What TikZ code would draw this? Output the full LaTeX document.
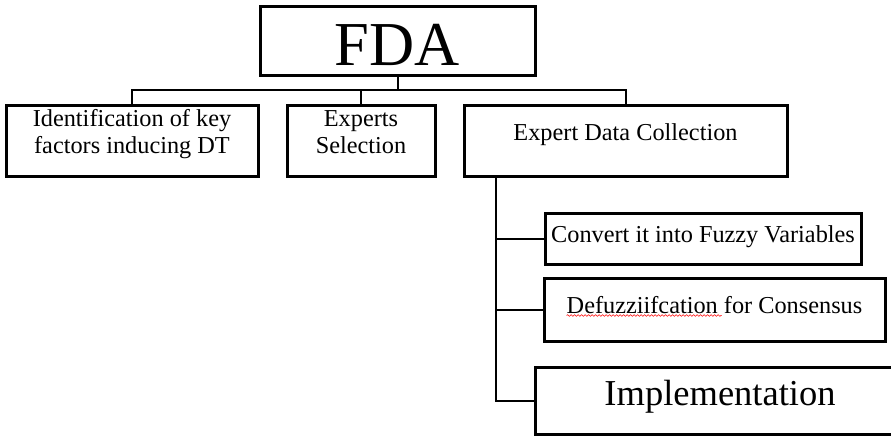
\documentclass[tikz,border=0pt]{standalone}
\usepackage{fontspec}
\usepackage{graphicx}
\setmainfont{Liberation Serif}
\usetikzlibrary{calc,decorations.pathmorphing}
\newcommand\txtat[2]{\raisebox{#1}[0pt][0pt]{#2}}
\tikzset{
  boxnode/.style={draw, line width=3pt, inner sep=0pt, align=center,
    font=\fontsize{24.3}{26.5}\selectfont},
  conn/.style={line width=2pt},
  squiggle/.style={draw=red, line width=0.6pt,
    decorate, decoration={snake, amplitude=0.8pt, segment length=3.5pt}}
}
\begin{document}
\begin{tikzpicture}[x=1pt,y=-1pt]
\useasboundingbox (0,0) rectangle (891,436);
\clip (0,0) rectangle (891,436);
\fill[white] (0,0) rectangle (891,436);

\node[boxnode, minimum width=275pt, minimum height=68pt,
  font=\fontsize{62.5}{70}\selectfont] (fda) at (397.5,41)
  {\txtat{-25pt}{FDA}};

\node[boxnode, minimum width=252pt, minimum height=71pt] (b1) at (132,140.5)
  {\txtat{13.8pt}{\begin{tabular}[t]{@{}c@{}}Identification of key\\factors inducing DT\end{tabular}}};
\node[boxnode, minimum width=148pt, minimum height=71pt] (b2) at (361,140.5)
  {\txtat{13.8pt}{\begin{tabular}[t]{@{}c@{}}Experts\\Selection\end{tabular}}};
\node[boxnode, minimum width=323pt, minimum height=71pt] (b3) at (625.5,140.5)
  {\txtat{0.5pt}{Expert Data Collection}};

\node[boxnode, minimum width=316pt, minimum height=51pt] (b4) at (703,238.5)
  {\txtat{-3.5pt}{Convert it into Fuzzy Variables}};
\node[boxnode, minimum width=341pt, minimum height=63pt] (b5) at (714.5,309.5)
  {\txtat{-3.5pt}{Defuzziifcation for Consensus}};
\node[boxnode, minimum width=400pt, minimum height=67pt,
  font=\fontsize{36.5}{40}\selectfont] (b6) at (735,400.5)
  {\txtat{-4.5pt}{\hspace*{-30pt}Implementation}};

\path[squiggle] ($(b5.center)+(-148,6)$) -- ($(b5.center)+(7,6)$);

\coordinate (bus) at (0,89.5);
\draw[conn] (fda.south) -- (fda.south |- bus);
\draw[conn] (b1.north) -- (b1.north |- bus) -- (b3.north |- bus) -- (b3.north);
\draw[conn] (b2.north) -- (b2.north |- bus);

\coordinate (trunk) at ($(b3.south west)+(33,0)$);
\draw[conn] (trunk) |- (b6.west);
\draw[conn] (trunk |- b4.west) -- (b4.west);
\draw[conn] (trunk |- b5.west) -- (b5.west);
\end{tikzpicture}
\end{document}
